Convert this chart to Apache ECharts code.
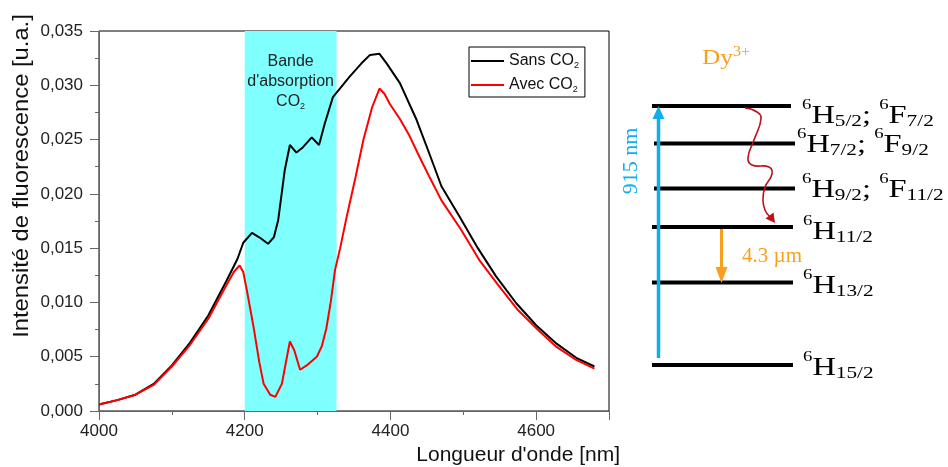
<!DOCTYPE html>
<html><head><meta charset="utf-8">
<script src="https://cdn.jsdelivr.net/npm/echarts@6/dist/echarts.min.js"></script>
<style>html,body{margin:0;padding:0;background:#fff}#c{width:948px;height:467px}</style>
</head><body><div id="c"></div>
<script>
// ---------- data ----------
const sansWavelength = [4000,4025,4050,4075,4100,4125,4150,4175,4190,4198,4210,4220,4232,4240,4246,4255,4262,4271,4280,4292,4302,4310,4321,4332,4344,4360,4372,4385,4395,4413,4436,4454,4470,4495,4520,4545,4573,4600,4628,4655,4680];
const sansIntensity  = [0.0006,0.0010,0.0015,0.0025,0.0042,0.0063,0.0088,0.0120,0.0140,0.0155,0.0164,0.0160,0.0154,0.0160,0.0176,0.0222,0.0245,0.0238,0.0243,0.0252,0.0245,0.0265,0.0289,0.0298,0.0308,0.0320,0.0328,0.0329,0.0320,0.0302,0.0268,0.0236,0.0207,0.0179,0.0150,0.0124,0.0099,0.0079,0.0062,0.0049,0.0041];
const avecWavelength = [4000,4025,4050,4075,4100,4125,4150,4175,4185,4193,4198,4203,4212,4220,4226,4235,4242,4251,4258,4262,4268,4276,4285,4299,4306,4312,4318,4324,4331,4340,4352,4363,4375,4385,4392,4399,4413,4425,4440,4454,4470,4497,4522,4548,4575,4602,4628,4655,4680];
const avecIntensity  = [0.0006,0.0010,0.0015,0.0024,0.0041,0.0061,0.0085,0.0116,0.0128,0.0134,0.0128,0.0111,0.0078,0.0045,0.0025,0.0015,0.0013,0.0025,0.0050,0.0064,0.0056,0.0038,0.0042,0.0050,0.0060,0.0076,0.0100,0.0130,0.0150,0.0179,0.0215,0.0250,0.0280,0.0297,0.0292,0.0283,0.0269,0.0255,0.0234,0.0215,0.0194,0.0167,0.0139,0.0116,0.0093,0.0075,0.0059,0.0047,0.0039];
const seriesNames = ['Sans CO2', 'Avec CO2'];
const bandRange = [4200, 4326];
const bandLabel = "Bande\nd'absorption\nCO{sub|2}";
const xTickValues = [4000, 4200, 4400, 4600];
const xTickLabels = ['4000', '4200', '4400', '4600'];
const yTickLabels = ['0,000','0,005','0,010','0,015','0,020','0,025','0,030','0,035'];
const xTitle = "Longueur d'onde [nm]";
const yTitle = 'Intensité de fluorescence [u.a.]';
const ionLabel = [['Dy','m'],['3+','sup']];
const levelLabels = [
  [['6','sup'],['H','m'],['5/2','sub'],['; ','m'],['6','sup'],['F','m'],['7/2','sub']],
  [['6','sup'],['H','m'],['7/2','sub'],['; ','m'],['6','sup'],['F','m'],['9/2','sub']],
  [['6','sup'],['H','m'],['9/2','sub'],['; ','m'],['6','sup'],['F','m'],['11/2','sub']],
  [['6','sup'],['H','m'],['11/2','sub']],
  [['6','sup'],['H','m'],['13/2','sub']],
  [['6','sup'],['H','m'],['15/2','sub']]
];
const pumpLabel = '915 nm';
const emissionLabel = '4.3 µm';

// ---------- layout ----------
const SANS = '"Liberation Sans", Arial, sans-serif';
const SERIF = '"Liberation Serif", "Times New Roman", serif';
const levelLayout = [ // [y, x0, x1, labelX, labelY]
  [106, 652, 791, 802, 116],
  [143.5, 654, 795, 797, 145],
  [188.5, 654, 795, 802, 190],
  [227, 652, 793, 803, 232],
  [282.5, 652, 793, 803, 286],
  [365, 652, 793, 803, 368]
];
const BLUE = '#10aeef', ORANGE = '#fa9f1b', DARKRED = '#c0101a';

const mctx = document.createElement('canvas').getContext('2d');
function tw(t, fs) { mctx.font = fs + 'px ' + SERIF; return mctx.measureText(t).width; }
function scriptText(x, y, parts, o) {
  const sizes = {m: o.m, sup: o.sup, sub: o.sub};
  const dys = {m: 0, sup: o.supDy, sub: o.subDy};
  let cx = 0; const children = [];
  parts.forEach(([t, k]) => {
    children.push({type: 'text', x: cx, y: dys[k], style: {text: t, font: sizes[k] + 'px ' + SERIF, fill: o.color, textAlign: 'left', textVerticalAlign: 'middle', verticalAlign: 'middle'}});
    cx += tw(t, sizes[k]);
  });
  return {type: 'group', x: x, y: y, scaleX: o.scaleX || 1, children: children};
}

const graphics = [];
// axis titles
graphics.push({type: 'text', x: 22, y: 176, rotation: Math.PI / 2, scaleX: 1.08,
  style: {text: yTitle, font: '22px ' + SANS, fill: '#111', textAlign: 'center', textVerticalAlign: 'middle', verticalAlign: 'middle'}});
graphics.push({type: 'text', x: 620, y: 455,
  style: {text: xTitle, font: '21px ' + SANS, fill: '#111', textAlign: 'right', textVerticalAlign: 'middle', verticalAlign: 'middle'}});
// energy levels
levelLayout.forEach((L, i) => {
  graphics.push({type: 'line', shape: {x1: L[1], y1: L[0], x2: L[2], y2: L[0]}, style: {stroke: '#000', lineWidth: 4}});
  graphics.push(scriptText(L[3], L[4], levelLabels[i], {m: 26, sup: 15, sub: 17, supDy: -11, subDy: 6, scaleX: 1.25, color: '#000'}));
});
graphics.push(scriptText(702, 58, ionLabel, {m: 22, sup: 14, sub: 14, supDy: -6, subDy: 0, scaleX: 1.15, color: ORANGE}));
// pump arrow
graphics.push({type: 'line', shape: {x1: 658.5, y1: 358, x2: 658.5, y2: 117}, style: {stroke: BLUE, lineWidth: 3.5}});
graphics.push({type: 'polygon', shape: {points: [[658.5, 106], [652.5, 119], [664.5, 119]]}, style: {fill: BLUE}});
graphics.push({type: 'text', x: 631, y: 161, rotation: Math.PI / 2,
  style: {text: pumpLabel, font: '22px ' + SERIF, fill: BLUE, textAlign: 'center', textVerticalAlign: 'middle', verticalAlign: 'middle'}});
// emission arrow
graphics.push({type: 'line', shape: {x1: 721.5, y1: 229, x2: 721.5, y2: 270}, style: {stroke: ORANGE, lineWidth: 3}});
graphics.push({type: 'polygon', shape: {points: [[721.5, 283], [715.5, 267], [727.5, 267]]}, style: {fill: ORANGE}});
graphics.push({type: 'text', x: 772, y: 256,
  style: {text: emissionLabel, font: '21px ' + SERIF, fill: ORANGE, textAlign: 'center', textVerticalAlign: 'middle', verticalAlign: 'middle'}});
// non-radiative wavy arrow
graphics.push({type: 'polyline', shape: {smooth: 0.5, points: [[745, 108], [757, 112], [761, 119], [754, 140], [748, 158], [752, 165], [769, 167], [772, 174], [765, 187], [763, 200], [765, 210], [770, 217]]},
  style: {stroke: DARKRED, lineWidth: 1.6, fill: null}});
graphics.push({type: 'polygon', shape: {points: [[775, 223], [765.5, 218.5], [773.5, 212.5]]}, style: {fill: DARKRED}});

const chart = echarts.init(document.getElementById('c'), null, {renderer: 'canvas'});
const pairs = (xs, ys) => xs.map((x, i) => [x, ys[i]]);
chart.setOption({
  animation: false,
  backgroundColor: '#fff',
  textStyle: {fontFamily: SANS},
  grid: {left: 99, right: 339, top: 31, bottom: 56, show: true, borderColor: '#000', borderWidth: 1, backgroundColor: 'transparent'},
  legend: {
    data: seriesNames, orient: 'vertical', left: 469, top: 47,
    padding: [6, 6, 3, 2], itemGap: 7, itemWidth: 33, itemHeight: 2, icon: 'rect',
    borderColor: '#000', borderWidth: 1, backgroundColor: '#fff',
    formatter: n => n.replace('CO2', 'CO{sub|2}'),
    textStyle: {fontSize: 16, color: '#111', fontFamily: SANS, rich: {sub: {fontSize: 9, color: '#111', padding: [9, 0, 0, 0], fontFamily: SANS}}}
  },
  xAxis: [{
    type: 'value', min: 4000, max: 4700, interval: 200,
    axisLine: {show: true, lineStyle: {color: '#666', width: 1}},
    axisTick: {show: true, inside: false, length: 9, lineStyle: {color: '#666'}},
    axisLabel: {margin: 12, fontSize: 17, color: '#222', fontFamily: SANS,
      formatter: v => { const i = xTickValues.indexOf(v); return i >= 0 ? xTickLabels[i] : ''; }},
    splitLine: {show: false}
  }, {
    type: 'value', min: 4000, max: 4700, interval: 100, position: 'bottom',
    axisLine: {show: false}, axisLabel: {show: false}, splitLine: {show: false},
    axisTick: {show: true, inside: false, length: 4, lineStyle: {color: '#666'}}
  }],
  yAxis: {
    type: 'value', min: 0, max: 0.035, interval: 0.005,
    axisLine: {show: true, lineStyle: {color: '#666', width: 1}},
    axisTick: {show: true, inside: false, length: 9, lineStyle: {color: '#666'}},
    minorTick: {show: true, splitNumber: 2, length: 4, lineStyle: {color: '#666'}},
    axisLabel: {margin: 16, fontSize: 17, color: '#222', fontFamily: SANS,
      formatter: (v, i) => yTickLabels[Math.round(v / 0.005)]},
    splitLine: {show: false}, minorSplitLine: {show: false}
  },
  series: [{
    name: 'band', type: 'line', data: [], z: 1, silent: true,
    markArea: {
      silent: true,
      itemStyle: {color: '#80ffff', opacity: 1},
      label: {show: true, position: 'insideTop', distance: 21, formatter: bandLabel,
        fontSize: 16, lineHeight: 20, color: '#222', fontFamily: SANS,
        rich: {sub: {fontSize: 9, color: '#222', padding: [9, 0, 0, 0], fontFamily: SANS}}},
      data: [[{xAxis: bandRange[0]}, {xAxis: bandRange[1]}]]
    }
  }, {
    name: seriesNames[0], type: 'line', z: 3, symbol: 'none', showSymbol: false,
    data: pairs(sansWavelength, sansIntensity),
    lineStyle: {color: '#000', width: 2}, itemStyle: {color: '#000'}
  }, {
    name: seriesNames[1], type: 'line', z: 4, symbol: 'none', showSymbol: false,
    data: pairs(avecWavelength, avecIntensity),
    lineStyle: {color: '#ff0000', width: 2}, itemStyle: {color: '#ff0000'}
  }],
  graphic: graphics
});
</script></body></html>
